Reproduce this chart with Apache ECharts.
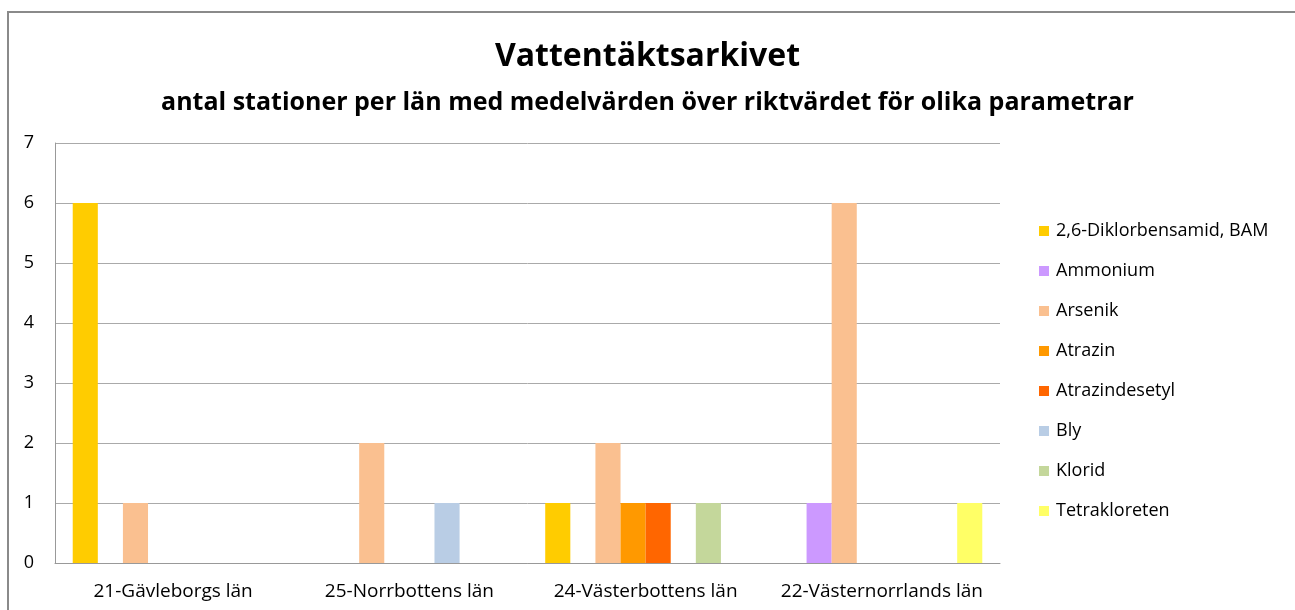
<!DOCTYPE html>
<html>
<head>
<meta charset="utf-8">
<script src="https://cdn.jsdelivr.net/npm/echarts@6/dist/echarts.min.js"></script>
<style>
html,body{margin:0;padding:0;background:#fff;}
#chart{width:1295px;height:610px;}
</style>
</head>
<body>
<div id="chart"></div>
<script>
const categories = ['21-Gävleborgs län', '25-Norrbottens län', '24-Västerbottens län', '22-Västernorrlands län'];
const seriesNames = ['2,6-Diklorbensamid, BAM', 'Ammonium', 'Arsenik', 'Atrazin', 'Atrazindesetyl', 'Bly', 'Klorid', 'Tetrakloreten'];
const bam = [6, 0, 1, 0];
const ammonium = [0, 0, 0, 1];
const arsenik = [1, 2, 2, 6];
const atrazin = [0, 0, 1, 0];
const atrazindesetyl = [0, 0, 1, 0];
const bly = [0, 1, 0, 0];
const klorid = [0, 0, 1, 0];
const tetrakloreten = [0, 0, 0, 1];
const yTicks = [0, 1, 2, 3, 4, 5, 6, 7];

const seriesData = [bam, ammonium, arsenik, atrazin, atrazindesetyl, bly, klorid, tetrakloreten];
const colors = ['#FFCC00', '#CC99FF', '#FAC090', '#FF9900', '#FF6600', '#B9CDE5', '#C4D79B', '#FFFF66'];
const font = '"Open Sans", "Noto Sans", sans-serif';

const chart = echarts.init(document.getElementById('chart'));
chart.setOption({
  animation: false,
  color: colors,
  title: [
    {text: 'Vattentäktsarkivet', left: 'center', top: 36,
     textStyle: {fontFamily: font, fontSize: 32, fontWeight: 'bold', color: '#000'}},
    {text: 'antal stationer per län med medelvärden över riktvärdet för olika parametrar', left: 'center', top: 85,
     textStyle: {fontFamily: font, fontSize: 25, fontWeight: 'bold', color: '#000'}}
  ],
  graphic: [{
    type: 'rect', shape: {x: 8, y: 12, width: 1400, height: 800},
    style: {fill: 'none', stroke: '#8a8a8a', lineWidth: 2}, silent: true
  }],
  legend: {
    orient: 'vertical', left: 1034, top: 217,
    itemWidth: 10, itemHeight: 10, itemGap: 22,
    icon: 'rect',
    textStyle: {fontFamily: font, fontSize: 18, color: '#000', padding: [0, 0, 0, 2]},
    data: seriesNames
  },
  grid: {left: 55, right: 295, top: 143, bottom: 47, containLabel: false},
  xAxis: {
    type: 'category', data: categories,
    axisLine: {show: true, lineStyle: {color: '#999', width: 1}},
    axisTick: {show: false},
    axisLabel: {fontFamily: font, fontSize: 19, color: '#000', margin: 19, interval: 0}
  },
  yAxis: {
    type: 'value', min: 0, max: 7, interval: 1,
    axisLine: {show: true, lineStyle: {color: '#999', width: 1}},
    axisTick: {show: false},
    splitLine: {show: true, lineStyle: {color: '#aaa', width: 1}},
    axisLabel: {fontFamily: font, fontSize: 18, color: '#000', margin: 21,
      formatter: v => yTicks.includes(v) ? String(v) : ''}
  },
  series: seriesNames.map((name, i) => ({
    name: name, type: 'bar', data: seriesData[i],
    barGap: '0%', barCategoryGap: '15%',
    itemStyle: {color: colors[i]}
  }))
});
</script>
</body>
</html>
